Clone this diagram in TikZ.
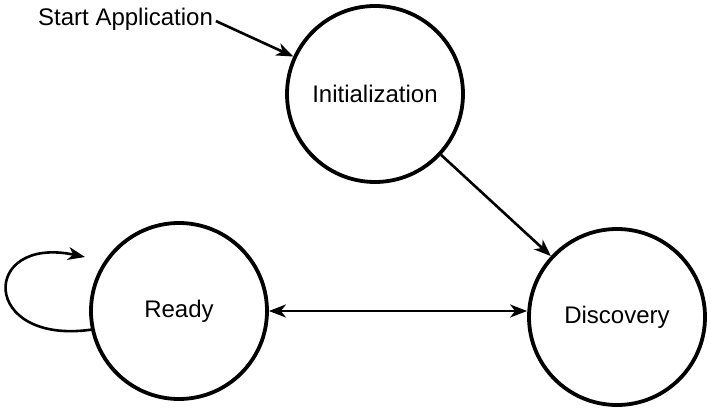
\documentclass[tikz,border=0pt]{standalone}
\usepackage{fontspec}
\setmainfont{Liberation Sans}
\usetikzlibrary{arrows.meta}
\tikzset{
	% Node styles for the state diagram: states and the free entry label
	state node/.style={circle,draw,line width=3.8pt,minimum size=176pt,inner sep=0pt},
	entry node/.style={inner sep=0pt},
	% Arrows between the states
	link/.style={line width=2.6pt,-{Stealth[length=17pt,width=13pt,inset=5pt]}}
}

\begin{document}
\begin{tikzpicture}[x=1pt,y=-1pt,font=\fontsize{24pt}{28pt}\selectfont]
			\useasboundingbox (0,0) rectangle (711,411);
			% States
			\node(init)[state node] at (375,94) {Initialization};
			\node(ready)[state node] at (179,311) {Ready};
			\node(disc)[state node] at (617,317) {Discovery};
			\node(start)[entry node,anchor=base west] at (38,26) {Start Application};
			\coordinate (loop end) at (85,257);
			
			\draw[link,shorten <=3pt] (start.east) -- (init);
			\draw[link] (init) -- (disc);
			\draw[link,{Stealth[length=17pt,width=13pt,inset=5pt]}-{Stealth[length=17pt,width=13pt,inset=5pt]}] (ready.east) -- (ready.east -| disc.west);
			\draw[link] (ready.192) .. controls (-20,345) and (-20,235) .. (loop end);
		\end{tikzpicture}
\end{document}
